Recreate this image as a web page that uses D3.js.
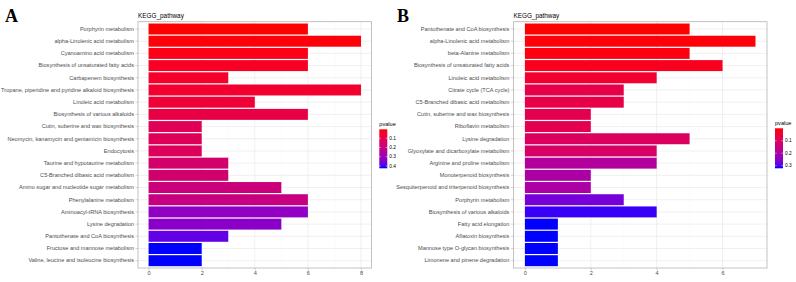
<!DOCTYPE html>
<html>
<head>
<meta charset="utf-8">
<script src="https://cdn.jsdelivr.net/npm/d3@7"></script>
<style>
  body { margin: 0; background: #fff; }
  svg { display: block; }
  text { font-family: "Liberation Sans", Arial, sans-serif; }
</style>
</head>
<body>
<svg id="chart" width="796" height="282"></svg>
<script>
// panel A data
var pathwaysA = [
  "Porphyrin metabolism",
  "alpha-Linolenic acid metabolism",
  "Cyanoamino acid metabolism",
  "Biosynthesis of unsaturated fatty acids",
  "Carbapenem biosynthesis",
  "Tropane, piperidine and pyridine alkaloid biosynthesis",
  "Linoleic acid metabolism",
  "Biosynthesis of various alkaloids",
  "Cutin, suberine and wax biosynthesis",
  "Neomycin, kanamycin and gentamicin biosynthesis",
  "Endocytosis",
  "Taurine and hypotaurine metabolism",
  "C5-Branched dibasic acid metabolism",
  "Amino sugar and nucleotide sugar metabolism",
  "Phenylalanine metabolism",
  "Aminoacyl-tRNA biosynthesis",
  "Lysine degradation",
  "Pantothenate and CoA biosynthesis",
  "Fructose and mannose metabolism",
  "Valine, leucine and isoleucine biosynthesis"
];
var countsA = [6, 8, 6, 6, 3, 8, 4, 6, 2, 2, 2, 3, 3, 5, 6, 6, 5, 3, 2, 2];
var pvalsA = [0.003, 0.01, 0.02, 0.035, 0.045, 0.055, 0.065, 0.09, 0.12, 0.125,
              0.13, 0.16, 0.165, 0.19, 0.2, 0.32, 0.33, 0.38, 0.425, 0.425];
var xTicksA = [0, 2, 4, 6, 8];
var legendTicksA = [0.1, 0.2, 0.3, 0.4];

// panel B data
var pathwaysB = [
  "Pantothenate and CoA biosynthesis",
  "alpha-Linolenic acid metabolism",
  "beta-Alanine metabolism",
  "Biosynthesis of unsaturated fatty acids",
  "Linoleic acid metabolism",
  "Citrate cycle (TCA cycle)",
  "C5-Branched dibasic acid metabolism",
  "Cutin, suberine and wax biosynthesis",
  "Riboflavin metabolism",
  "Lysine degradation",
  "Glyoxylate and dicarboxylate metabolism",
  "Arginine and proline metabolism",
  "Monoterpenoid biosynthesis",
  "Sesquiterpenoid and triterpenoid biosynthesis",
  "Porphyrin metabolism",
  "Biosynthesis of various alkaloids",
  "Fatty acid elongation",
  "Aflatoxin biosynthesis",
  "Mannose type O-glycan biosynthesis",
  "Limonene and pinene degradation"
];
var countsB = [5, 7, 5, 6, 4, 3, 3, 2, 2, 5, 4, 4, 2, 2, 3, 4, 1, 1, 1, 1];
var pvalsB = [0.0, 0.005, 0.01, 0.02, 0.04, 0.07, 0.07, 0.08, 0.08, 0.10,
              0.11, 0.19, 0.2, 0.2, 0.27, 0.31, 0.321, 0.321, 0.321, 0.321];
var xTicksB = [0, 2, 4, 6];
var legendTicksB = [0.1, 0.2, 0.3];

var svg = d3.select("#chart");

function drawPanel(opt) {
  var g = svg.append("g");
  var maxCount = d3.max(opt.counts);
  var pad = maxCount * 0.05;

  var x = d3.scaleLinear()
      .domain([-pad, maxCount + pad])
      .range([opt.left, opt.right]);

  var y = d3.scaleBand()
      .domain(opt.pathways)
      .range([opt.top, opt.bottom])
      .paddingInner(0.1)
      .paddingOuter(0.15);

  var pExtent = d3.extent(opt.pvals);
  var color = d3.scaleLinear()
      .domain(pExtent)
      .range(["#ff0000", "#0000ff"])
      .interpolate(d3.interpolateLab);

  // minor vertical grid
  var minor = d3.range(1, maxCount, 2);
  g.selectAll(".minor")
      .data(minor)
      .enter().append("line")
      .attr("x1", d => x(d)).attr("x2", d => x(d))
      .attr("y1", opt.top).attr("y2", opt.bottom)
      .attr("stroke", "#f2f2f2").attr("stroke-width", 0.4);

  // major vertical grid
  g.selectAll(".vmajor")
      .data(opt.xTicks)
      .enter().append("line")
      .attr("x1", d => x(d)).attr("x2", d => x(d))
      .attr("y1", opt.top).attr("y2", opt.bottom)
      .attr("stroke", "#e6e6e6").attr("stroke-width", 0.6);

  // horizontal grid
  g.selectAll(".hmajor")
      .data(opt.pathways)
      .enter().append("line")
      .attr("x1", opt.left).attr("x2", opt.right)
      .attr("y1", d => y(d) + y.bandwidth() / 2)
      .attr("y2", d => y(d) + y.bandwidth() / 2)
      .attr("stroke", "#e6e6e6").attr("stroke-width", 0.6);

  // bars
  g.selectAll(".bar")
      .data(opt.pathways)
      .enter().append("rect")
      .attr("x", x(0))
      .attr("y", d => y(d))
      .attr("width", (d, i) => x(opt.counts[i]) - x(0))
      .attr("height", y.bandwidth())
      .attr("fill", (d, i) => color(opt.pvals[i]));

  // panel border
  g.append("rect")
      .attr("x", opt.left).attr("y", opt.top)
      .attr("width", opt.right - opt.left)
      .attr("height", opt.bottom - opt.top)
      .attr("fill", "none")
      .attr("stroke", "#b3b3b3").attr("stroke-width", 0.8);

  // y axis
  var yAxis = g.append("g")
      .attr("transform", "translate(" + opt.left + ",0)")
      .call(d3.axisLeft(y).tickSize(2.5).tickPadding(1.5));
  yAxis.select(".domain").remove();
  yAxis.selectAll("line").attr("stroke", "#b3b3b3").attr("stroke-width", 0.6);
  yAxis.selectAll("text")
      .attr("fill", "#4d4d4d")
      .style("font-size", "5.6px")
      .style("font-family", "'Liberation Sans', Arial, sans-serif");

  // x axis
  var xAxis = g.append("g")
      .attr("transform", "translate(0," + opt.bottom + ")")
      .call(d3.axisBottom(x).tickValues(opt.xTicks).tickSize(2.5).tickPadding(1));
  xAxis.select(".domain").remove();
  xAxis.selectAll("line").attr("stroke", "#b3b3b3").attr("stroke-width", 0.6);
  xAxis.selectAll("text")
      .attr("fill", "#4d4d4d")
      .style("font-size", "5.6px")
      .style("font-family", "'Liberation Sans', Arial, sans-serif");

  // y axis title on top
  g.append("text")
      .attr("x", opt.left)
      .attr("y", opt.top - 4)
      .attr("font-size", "6.4px")
      .attr("fill", "#000")
      .text("KEGG_pathway");

  // panel letter
  g.append("text")
      .attr("x", opt.letterX)
      .attr("y", 21.5)
      .style("font-family", "'Liberation Serif', 'DejaVu Serif', serif")
      .style("font-weight", "bold")
      .style("font-size", "18px")
      .attr("fill", "#000")
      .text(opt.letter);

  // legend
  var lg = g.append("g");
  var barTop = opt.legTop, barBottom = opt.legBottom;
  var gradId = "grad" + opt.letter;
  var grad = svg.append("defs").append("linearGradient")
      .attr("id", gradId)
      .attr("x1", 0).attr("y1", 0).attr("x2", 0).attr("y2", 1);
  d3.range(0, 1.0001, 0.1).forEach(function (t) {
    grad.append("stop")
        .attr("offset", t)
        .attr("stop-color", color(pExtent[0] + t * (pExtent[1] - pExtent[0])));
  });
  lg.append("text")
      .attr("x", opt.legX)
      .attr("y", barTop - 3)
      .attr("font-size", "5.6px")
      .attr("fill", "#000")
      .text("pvalue");
  lg.append("rect")
      .attr("x", opt.legX).attr("y", barTop)
      .attr("width", 8).attr("height", barBottom - barTop)
      .attr("fill", "url(#" + gradId + ")");

  var ly = d3.scaleLinear().domain(pExtent).range([barTop, barBottom]);
  lg.selectAll(".ltick")
      .data(opt.legendTicks)
      .enter().append("line")
      .attr("x1", opt.legX).attr("x2", opt.legX + 1.6)
      .attr("y1", d => ly(d)).attr("y2", d => ly(d))
      .attr("stroke", "#fff").attr("stroke-width", 0.5);
  lg.selectAll(".ltick2")
      .data(opt.legendTicks)
      .enter().append("line")
      .attr("x1", opt.legX + 6.4).attr("x2", opt.legX + 8)
      .attr("y1", d => ly(d)).attr("y2", d => ly(d))
      .attr("stroke", "#fff").attr("stroke-width", 0.5);
  lg.selectAll(".llab")
      .data(opt.legendTicks)
      .enter().append("text")
      .attr("x", opt.legX + 10)
      .attr("y", d => ly(d))
      .attr("dy", "0.35em")
      .attr("font-size", "4.8px")
      .attr("fill", "#000")
      .text(d => d3.format(".1f")(d));
}

drawPanel({
  letter: "A", letterX: 5,
  pathways: pathwaysA, counts: countsA, pvals: pvalsA,
  xTicks: xTicksA, legendTicks: legendTicksA,
  left: 138, right: 371.6, top: 21.7, bottom: 268,
  legX: 379.3, legTop: 129.3, legBottom: 168.3
});

drawPanel({
  letter: "B", letterX: 397,
  pathways: pathwaysB, counts: countsB, pvals: pvalsB,
  xTicks: xTicksB, legendTicks: legendTicksB,
  left: 513.4, right: 767, top: 21.7, bottom: 268,
  legX: 775, legTop: 128.3, legBottom: 168.3
});
</script>
</body>
</html>
